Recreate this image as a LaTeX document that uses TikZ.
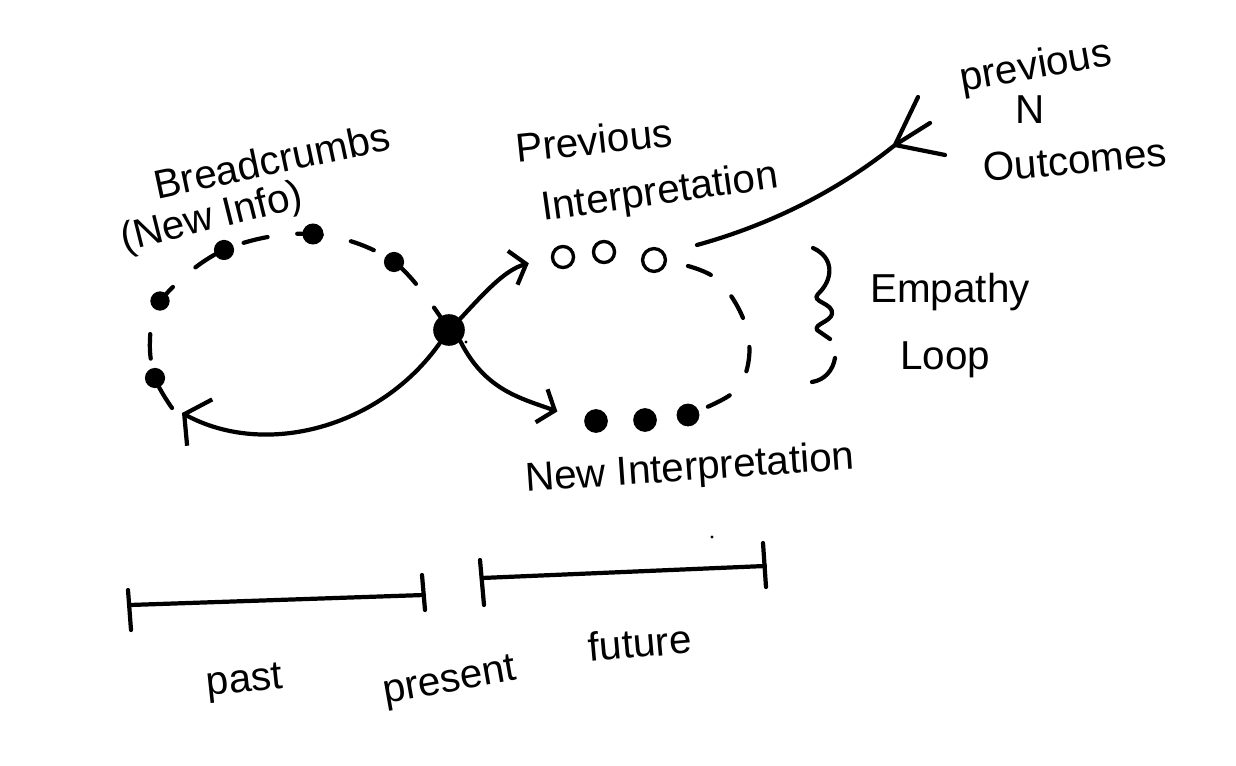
\documentclass[tikz,border=0pt]{standalone}
\usepackage{fontspec}
\setmainfont{Liberation Sans}
\usetikzlibrary{arrows.meta}
\begin{document}
\begin{tikzpicture}[x=0.02cm,y=-0.02cm,
  ink/.style={line width=2.4pt, line cap=round, line join=round},
  dashink/.style={ink, dash pattern=on 14pt off 17pt},
  dot/.style={circle, fill=black, inner sep=0pt, minimum size=#1},
  odot/.style={circle, draw=black, line width=1.9pt, inner sep=0pt, minimum size=#1},
  lbl/.style={font=\fontsize{23}{26}\selectfont, inner sep=0pt},
  bigbarb/.style={-{Straight Barb[length=10pt,width=30pt]}},
  smallbarb/.style={-{Straight Barb[length=8pt,width=20pt]}},
]
\useasboundingbox[fill=white] (0,0) rectangle (1236,766);

% left loop dots
\node[dot=11.5pt] (d1) at (155,378) {};
\node[dot=11pt] (d2) at (160,301) {};
\node[dot=11.5pt] (d3) at (224,250) {};
\node[dot=12pt] (d4) at (313,234) {};
\node[dot=11.5pt] (d5) at (394,262) {};
\node[dot=18pt] (big) at (449,330) {};
\node[dot=1.8pt] (speck1) at (466,342) {};

% left dashed loop
\coordinate (lstart) at (172,408);
\draw[dashink] plot[smooth, tension=0.6] coordinates {(lstart) (d1) (150,340) (d2) (d3) (d4) (d5) (big)};

% return arrow
\coordinate (loopend) at (182,413);
\draw[ink, bigbarb] (big) .. controls (380,428) and (265,458) .. (loopend);

% right side dots
\node[odot=12pt] (o1) at (563,257) {};
\node[odot=12pt] (o2) at (604,252) {};
\node[odot=13pt] (o3) at (654,260) {};
\node[dot=13.5pt] (f1) at (596,421) {};
\node[dot=13.5pt] (f2) at (645,420) {};
\node[dot=13pt] (f3) at (688,415) {};

% right dashed loop
\coordinate (rstart) at (688,266);
\draw[dashink] plot[smooth, tension=0.6] coordinates {(rstart) (718,280) (743,318) (749,358) (734,392) (f3)};

% arrows from present
\draw[ink, smallbarb, shorten >=13pt] (big.north east) .. controls (485,292) and (505,270) .. (o1.west);
\draw[ink, smallbarb, shorten >=16pt] (big.south east) .. controls (485,390) and (520,398) .. (f1.west);

% previous N outcomes fork
\coordinate (olstart) at (697,245);
\coordinate (fk) at (895,145);
\coordinate (fkA) at (918,97);
\coordinate (fkB) at (930,123);
\coordinate (fkC) at (945,155);
\draw[ink] (olstart) .. controls (780,222) and (845,185) .. (fk) -- (fkA);
\draw[ink] (fkB) -- (fk) -- (fkC);

% brace
\draw[ink] (813,248) .. controls (835,258) and (833,280) .. (818,294)
  .. controls (810,302) and (834,303) .. (832,314)
  .. controls (830,322) and (814,324) .. (817,330) -- (830,339);
\draw[ink] (835,358) .. controls (833,370) and (825,380) .. (812,382);

% timeline
\coordinate (pastL) at (130,605);
\coordinate (pastR) at (424,595);
\coordinate (futL) at (482,578);
\coordinate (futR) at (765,566);
\draw[ink] (pastL) -- (pastR);
\draw[ink] (128,590) -- (131,630);
\draw[ink] (422,575) -- (425,610);
\draw[ink] (futL) -- (futR);
\draw[ink] (480,560) -- (484,605);
\draw[ink] (763,543) -- (766,587);
\node[dot=1.8pt] (speck2) at (712,537) {};

% labels
\node[lbl, rotate=12] (bc) at (272,160) {Breadcrumbs};
\node[lbl, rotate=14] (ni) at (212,219) {(New Info)};
\node[lbl, rotate=6] (pv) at (594,140) {Previous};
\node[lbl, rotate=8] (ip) at (660,194) {Interpretation};
\node[lbl, rotate=10] (pr) at (1036,68) {previous};
\node[lbl] (nn) at (1030,110) {N};
\node[lbl, rotate=5] (oc) at (1075,160) {Outcomes};
\node[lbl] (em) at (950,292) {Empathy};
\node[lbl] (lp) at (945,360) {Loop};
\node[lbl, rotate=4] (nw) at (690,470) {New Interpretation};
\node[lbl, rotate=6] (pa) at (245,683) {past};
\node[lbl, rotate=10] (ps) at (450,683) {present};
\node[lbl, rotate=5] (fu) at (640,643) {future};
\end{tikzpicture}
\end{document}
